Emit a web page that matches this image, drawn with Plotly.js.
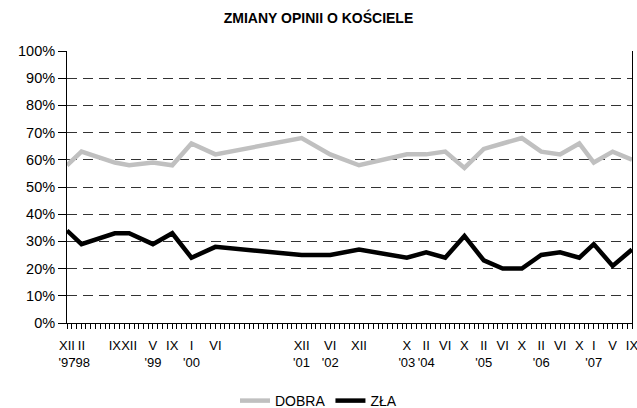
<!DOCTYPE html>
<html>
<head>
<meta charset="utf-8">
<script src="https://cdn.plot.ly/plotly-3.0.1.min.js"></script>
<style>html,body{margin:0;padding:0;background:#fff}#chart{width:637px;height:408px}</style>
</head>
<body>
<div id="chart"></div>
<script>
// survey dates (position on the time axis) and their labels
var dates = ['1997-11-01','1998-02-01','1998-09-01','1998-12-01','1999-05-01','1999-09-01','2000-01-01','2000-06-01',
             '2001-12-01','2002-06-01','2002-12-01','2003-10-01','2004-02-01','2004-06-01','2004-10-01',
             '2005-02-01','2005-06-01','2005-10-01','2006-02-01','2006-06-01','2006-10-01',
             '2007-01-01','2007-05-01','2007-09-01'];
var monthLabels = ['XII','II','IX','XII','V','IX','I','VI','XII','VI','XII','X','II','VI','X',
                   'II','VI','X','II','VI','X','I','V','IX'];
var yearLabels = ["'97","'98","","","'99","","'00","","'01","'02","","'03","'04","","",
                  "'05","","","'06","","","'07","",""];
var dobra = [58,63,59,58,59,58,66,62,68,62,58,62,62,63,57,64,66,68,63,62,66,59,63,60];
var zla   = [34,29,33,33,29,33,24,28,25,25,27,24,26,24,32,23,20,20,25,26,24,29,21,27];

var tickText = monthLabels.map(function(m,i){ return yearLabels[i] ? m + '<br>' + yearLabels[i] : m + '<br> '; });
var font = "'Liberation Sans', Arial, sans-serif";
var xRange = [dates[0], dates[dates.length-1]];

var traces = [
  {x: dates, y: dobra, name: 'DOBRA', type: 'scatter', mode: 'lines',
   line: {color: '#c0c0c0', width: 4.5}},
  {x: dates, y: zla, name: 'ZŁA', type: 'scatter', mode: 'lines',
   line: {color: '#000000', width: 4.5}},
  {x: dates, y: dobra, xaxis: 'x2', type: 'scatter', mode: 'lines', showlegend: false,
   hoverinfo: 'skip', line: {width: 0}, opacity: 0}
];

var layout = {
  width: 637, height: 408,
  margin: {l: 67, r: 5, t: 51, b: 85},
  paper_bgcolor: '#fff', plot_bgcolor: '#fff',
  font: {family: font, size: 13, color: '#000'},
  title: {text: '<b>ZMIANY OPINII O KOŚCIELE</b>', font: {family: font, size: 14, color: '#000'},
          x: 0.5, xanchor: 'center', y: 1 - 18/408, yanchor: 'middle', yref: 'container'},
  xaxis: {type: 'date', range: xRange, showline: true, linecolor: '#000', linewidth: 1,
          ticks: 'outside', ticklen: 5, tickcolor: '#000', tickwidth: 1, automargin: false,
          dtick: 'M1', tick0: dates[0], showticklabels: false, showgrid: false, zeroline: false},
  xaxis2: {type: 'date', overlaying: 'x', side: 'bottom', range: xRange, automargin: false,
           tickmode: 'array', tickvals: dates, ticktext: tickText,
           ticks: 'outside', ticklen: 10, tickcolor: 'rgba(0,0,0,0)',
           showline: false, showgrid: false, zeroline: false, ticklabeloverflow: 'allow',
           tickfont: {family: font, size: 13, color: '#000'}, tickangle: 0},
  yaxis: {range: [0, 100], dtick: 10, ticksuffix: '%', showline: true, mirror: true,
          linecolor: '#000', linewidth: 1, ticks: 'outside', ticklen: 8, tickcolor: '#000', automargin: false,
          showgrid: true, gridcolor: '#333', gridwidth: 1, griddash: '10px,6px', zeroline: false,
          tickfont: {family: font, size: 14.5, color: '#000'}},
  legend: {orientation: 'h', x: 0.5, xanchor: 'center', xref: 'container',
           y: 1 - 401/408, yanchor: 'middle', yref: 'container',
           font: {family: font, size: 14, color: '#000'}, itemwidth: 30},
  showlegend: true
};

Plotly.newPlot('chart', traces, layout, {staticPlot: true});
</script>
</body>
</html>
